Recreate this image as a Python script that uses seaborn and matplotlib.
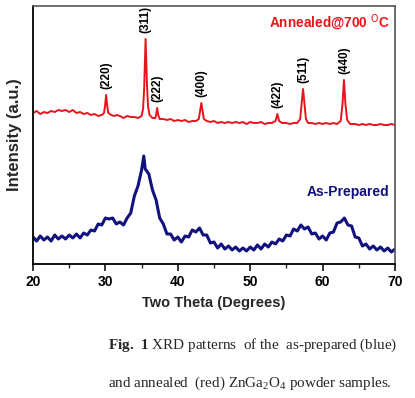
import numpy as np
import pandas as pd
import matplotlib
matplotlib.use("Agg")
import matplotlib.pyplot as plt
import seaborn as sns

# annealed sample (red) - two theta / intensity
annealed_theta = [
    20.0, 20.5, 21.0, 21.5, 22.0, 22.5, 23.0, 23.5, 24.0, 24.5, 25.0, 25.5, 26.0, 26.5,
    27.0, 27.5, 28.0, 28.5, 29.0, 29.5, 29.8, 29.95, 30.1, 30.25, 30.4, 30.8, 31.2, 31.6,
    32.0, 32.5, 33.0, 33.5, 34.0, 34.5, 35.0, 35.2, 35.35, 35.55, 35.75, 35.9, 36.1, 36.5,
    36.9, 37.0, 37.15, 37.3, 37.5, 38.0, 38.5, 39.0, 39.5, 40.0, 40.5, 41.0, 41.5, 42.0,
    42.5, 42.9, 43.1, 43.25, 43.4, 43.6, 44.0, 44.5, 45.0, 45.5, 46.0, 46.5, 47.0, 47.5,
    48.0, 48.5, 49.0, 49.5, 50.0, 50.5, 51.0, 51.5, 52.0, 52.5, 53.0, 53.5, 53.75, 54.0,
    54.4, 55.0, 55.5, 56.0, 56.5, 56.9, 57.1, 57.3, 57.5, 57.7, 58.0, 58.5, 59.0, 59.5,
    60.0, 60.5, 61.0, 61.5, 62.0, 62.5, 62.75, 62.95, 63.15, 63.4, 63.8, 64.5, 65.0, 65.5,
    66.0, 66.5, 67.0, 67.5, 68.0, 68.5, 69.0, 69.5, 70.0,
]
annealed_int = [
    153, 155, 152, 154, 153, 155, 154, 156, 155, 156, 154, 156, 153, 154,
    152, 153, 151, 152, 150, 151, 153, 160, 171, 160, 153, 151, 150, 151,
    150, 148, 150, 149, 149, 148, 150, 157, 177, 227, 180, 159, 151, 148,
    148, 151, 158, 151, 147, 147, 146, 147, 145, 146, 145, 146, 144, 145,
    145, 147, 156, 163, 156, 147, 145, 144, 145, 143, 144, 143, 144, 143,
    144, 143, 144, 142, 144, 143, 143, 144, 142, 143, 143, 145, 152, 145,
    143, 143, 142, 143, 143, 147, 162, 177, 162, 147, 143, 143, 142, 143,
    142, 143, 142, 143, 142, 145, 162, 186, 162, 146, 142, 142, 141, 142,
    141, 142, 141, 141, 142, 141, 141, 142, 141,
]

# as-prepared sample (blue)
prepared_theta = [
    20.0, 20.5, 21.0, 21.5, 22.0, 22.5, 23.0, 23.5, 24.0, 24.5, 25.0, 25.5, 26.0, 26.5,
    27.0, 27.5, 28.0, 28.5, 29.0, 29.5, 30.0, 30.5, 31.0, 31.5, 32.0, 32.5, 33.0, 33.5,
    34.0, 34.5, 35.0, 35.3, 35.5, 36.0, 36.5, 37.0, 37.5, 38.0, 38.5, 39.0, 39.5, 40.0,
    40.5, 41.0, 41.5, 42.0, 42.5, 43.0, 43.5, 44.0, 44.5, 45.0, 45.5, 46.0, 46.5, 47.0,
    47.5, 48.0, 48.5, 49.0, 49.5, 50.0, 50.5, 51.0, 51.5, 52.0, 52.5, 53.0, 53.5, 54.0,
    54.5, 55.0, 55.5, 56.0, 56.5, 57.0, 57.5, 58.0, 58.5, 59.0, 59.5, 60.0, 60.5, 61.0,
    61.5, 62.0, 62.5, 63.0, 63.5, 64.0, 64.5, 65.0, 65.5, 66.0, 66.5, 67.0, 67.5, 68.0,
    68.5, 69.0, 69.5, 70.0,
]
prepared_int = [
    29, 25, 30, 26, 29, 25, 31, 27, 30, 27, 31, 28, 32, 28,
    33, 31, 36, 35, 42, 41, 48, 47, 48, 42, 44, 41, 48, 53,
    70, 80, 96, 110, 97, 92, 76, 66, 48, 42, 32, 32, 26, 29,
    24, 30, 29, 36, 34, 38, 31, 31, 23, 24, 18, 22, 17, 20,
    16, 19, 15, 18, 15, 19, 16, 21, 17, 22, 19, 24, 22, 27,
    25, 31, 30, 37, 35, 41, 37, 39, 32, 33, 27, 30, 26, 33,
    34, 43, 44, 48, 41, 40, 29, 28, 20, 22, 17, 20, 16, 19,
    15, 18, 14, 17,
]

# reflections labelled on the annealed pattern
hkl_labels = ["(220)", "(311)", "(222)", "(400)", "(422)", "(511)", "(440)"]
hkl_theta = [30.1, 35.55, 37.15, 43.25, 53.75, 57.3, 62.95]
hkl_peak = [171, 227, 158, 163, 152, 177, 186]

RED = "#e8141b"
NAVY = "#12127f"

sns.set_theme(style="white")
plt.rcParams["font.family"] = ["Liberation Sans", "DejaVu Sans"]
plt.rcParams["mathtext.fontset"] = "custom"
plt.rcParams["mathtext.rm"] = "Liberation Serif"
plt.rcParams["mathtext.bf"] = "Liberation Serif:bold"

df_ann = pd.DataFrame({"theta": annealed_theta, "intensity": annealed_int})
df_pre = pd.DataFrame({"theta": prepared_theta, "intensity": prepared_int})

fig = plt.figure(figsize=(4.15, 3.98), dpi=100)
ax = fig.add_axes([33 / 415, 1 - 264 / 398, 362 / 415, 258 / 398])

sns.lineplot(data=df_pre, x="theta", y="intensity", ax=ax, color=NAVY,
             linewidth=2.2, estimator=None, sort=False)
sns.lineplot(data=df_ann, x="theta", y="intensity", ax=ax, color=RED,
             linewidth=1.4, estimator=None, sort=False)

for lab, t, p in zip(hkl_labels, hkl_theta, hkl_peak):
    ax.text(t, p + 6, lab, rotation=90, ha="center", va="bottom",
            fontsize=8.5, fontweight="bold", color="black")

ax.text(0.985, 0.935, "Annealed@700 $^\\mathsf{O}$C", transform=ax.transAxes,
        ha="right", va="center", color=RED, fontsize=9.8, fontweight="bold")
ax.text(0.985, 0.28, "As-Prepared", transform=ax.transAxes,
        ha="right", va="center", color=NAVY, fontsize=10, fontweight="bold")

ax.set_xlim(20, 70)
ax.set_ylim(2, 260)
ax.set_xticks([20, 30, 40, 50, 60, 70])
ax.set_xticks([25, 35, 45, 55, 65], minor=True)
ax.set_yticks([])
ax.tick_params(axis="x", which="major", direction="out", length=5, width=1.1,
               bottom=True, labelsize=10, pad=3, colors="black")
ax.tick_params(axis="x", which="minor", direction="out", length=3, width=1.0, bottom=True)
for lbl in ax.get_xticklabels():
    lbl.set_fontweight("bold")

for side in ["left", "bottom"]:
    ax.spines[side].set_color("black")
    ax.spines[side].set_linewidth(1.3)
for side in ["top", "right"]:
    ax.spines[side].set_color("#555555")
    ax.spines[side].set_linewidth(1.2)

ax.set_xlabel("Two Theta (Degrees)", fontsize=10.5, fontweight="bold", labelpad=5)
ax.set_ylabel("Intensity (a.u.)", fontsize=12, fontweight="bold", labelpad=8)

# caption below the chart
fig.text(108 / 415, 1 - 345 / 398,
         r"$\mathbf{Fig.\ 1}$ XRD patterns  of the  as-prepared (blue)",
         fontsize=10.9, family="Liberation Serif", va="center", ha="left")
fig.text(108 / 415, 1 - 383 / 398,
         r"and annealed  (red) ZnGa$_2$O$_4$ powder samples.",
         fontsize=10.9, family="Liberation Serif", va="center", ha="left")

fig.savefig("out.png", dpi=100)
